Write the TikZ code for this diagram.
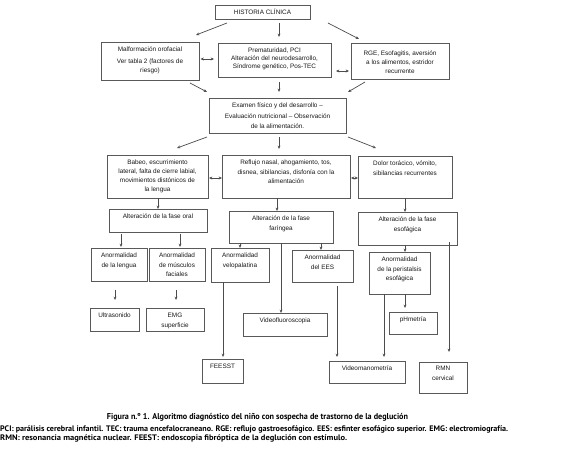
\documentclass[tikz,border=0pt]{standalone}
\usepackage{fontspec}
\usepackage{graphicx}
\setmainfont{Liberation Sans}
\newfontfamily\capfont{PT Sans}
\usetikzlibrary{arrows.meta,calc}
\newcommand{\flowbox}[7][]{%
  \node[box, minimum width={(#5-#3)*1pt}, minimum height={(#6-#4)*1pt}] (#2) at (#3,#4) {};
  \node[txt, anchor=north, #1] (#2T) at ([yshift=-5pt]#2.north) {#7};}
\begin{document}
\begin{tikzpicture}[x=1pt,y=-1pt,
  box/.style={draw=black!65, line width=0.7pt, inner sep=0pt, outer sep=0pt, anchor=north west},
  txt/.style={font=\fontsize{6.4}{9.5}\selectfont, align=center, inner sep=0pt, text=black!90},
  arr/.style={draw=black!70, line width=0.7pt, -{Stealth[length=3.4pt,width=2.8pt]}},
  darr/.style={draw=black!70, line width=0.7pt, {Stealth[length=3.4pt,width=3pt]}-{Stealth[length=3.4pt,width=3pt]}}]
\useasboundingbox[fill=white] (0,0) rectangle (567,452);

% boxes
\node[box, minimum width=95pt, minimum height=14pt] (hc) at (215,5) {};
\node[txt] (hcT) at (hc.center) {HISTORIA CLÍNICA};
\flowbox{malf}{101}{42}{199}{80}{Malformación orofacial\\[2pt]Ver tabla 2 (factores de\\riesgo)}
\flowbox[font=\fontsize{6.4}{7.6}\selectfont]{prem}{218}{43}{331}{77}{Prematuridad, PCI\\Alteración del neurodesarrollo,\\Síndrome genético, Pos-TEC}
\flowbox[yshift=-2.5pt, font=\fontsize{6.4}{9}\selectfont]{rge}{351}{43}{449}{79}{RGE, Esofagitis, aversión\\a los alimentos, estridor\\recurrente}
\flowbox[font=\fontsize{6.4}{10.3}\selectfont]{exam}{209}{98}{346}{133}{Examen físico y del desarrollo --\\Evaluación nutricional -- Observación\\de la alimentación.}
\flowbox[font=\fontsize{6.4}{8.8}\selectfont]{babeo}{107}{155}{208}{198}{Babeo, escurrimiento\\lateral, falta de cierre labial,\\movimientos distónicos de\\la lengua}
\flowbox{refl}{222}{155}{350}{198}{Reflujo nasal, ahogamiento, tos,\\disnea, sibilancias, disfonía con la\\alimentación}
\flowbox{dolor}{358}{156}{452}{198}{Dolor torácico, vómito,\\sibilancias recurrentes}
\flowbox{oral}{109}{209}{207}{232}{Alteración de la fase oral}
\flowbox{far}{229}{211}{333}{243}{Alteración de la fase\\faríngea}
\flowbox{esof}{358}{212}{457}{245}{Alteración de la fase\\esofágica}
\flowbox{leng}{91}{248}{147}{281}{Anormalidad\\de la lengua}
\flowbox{musc}{149}{248}{205}{281}{Anormalidad\\de músculos\\faciales}
\flowbox{velo}{211}{248}{269}{282}{Anormalidad\\velopalatina}
\flowbox{ees}{292}{250}{353}{282}{Anormalidad\\del EES}
\flowbox{peri}{369}{252}{430}{294}{Anormalidad\\de la peristalsis\\esofágica}
\flowbox{ultra}{90}{308}{139}{331}{Ultrasonido}
\flowbox{emg}{146}{308}{204}{331}{EMG\\superficie}
\flowbox{vfl}{243}{313}{327}{336}{Videofluoroscopia}
\flowbox{phm}{389}{312}{437}{334}{pHmetría}
\flowbox{fees}{202}{359}{243}{383}{FEESST}
\flowbox{vman}{329}{361}{405}{383}{Videomanometría}
\flowbox[yshift=1pt]{rmn}{419}{362}{467}{393}{RMN\\cervical}

% connectors
\draw[arr] ([xshift=-35.5pt,yshift=-4pt]hc.south) -- ([xshift=46pt,yshift=7pt]malf.north);
\draw[arr] ([xshift=16.5pt,yshift=-4pt]hc.south) -- ([xshift=4.5pt,yshift=6pt]prem.north);
\draw[arr] ([xshift=65.5pt,yshift=-4pt]hc.south) -- ([xshift=-41pt,yshift=4pt]rge.north);
\draw[darr] ([xshift=1.5pt,yshift=2pt]malf.east) -- ([xshift=-4pt,yshift=1pt]prem.west);
\draw[darr] ([xshift=5pt,yshift=-11pt]prem.east) -- ([xshift=-2pt,yshift=-10pt]rge.west);
\draw[arr] ([xshift=40pt,yshift=-3pt]malf.south) -- ([xshift=-70.5pt,yshift=6pt]exam.north);
\draw[arr] ([xshift=4.5pt,yshift=-5pt]prem.south) -- ([xshift=1.5pt,yshift=6pt]exam.north);
\draw[arr] ([xshift=-35pt,yshift=-3pt]rge.south) -- ([xshift=70.5pt,yshift=6pt]exam.north);
\draw[arr] ([xshift=-70.5pt,yshift=-4pt]exam.south) -- ([xshift=19.5pt,yshift=7pt]babeo.north);
\draw[arr] ([xshift=1.5pt,yshift=-4pt]exam.south) -- ([xshift=-7pt,yshift=6pt]refl.north);
\draw[arr] ([xshift=70.5pt,yshift=-4pt]exam.south) -- ([xshift=-29pt,yshift=8pt]dolor.north);
\draw[darr] ([xshift=1pt,yshift=-1.5pt]babeo.east) -- ([yshift=-1.5pt]refl.west);
\draw[darr] ([xshift=1pt,yshift=-1.5pt]refl.east) -- ([yshift=-1pt]dolor.west);
\draw[arr] ([xshift=0.5pt]babeo.south) -- (oral.north);
\draw[arr] ([xshift=-9pt]refl.south) -- ([xshift=-4pt]far.north);
\draw[arr] (dolor.south) -- ([xshift=-2.5pt]esof.north);
\draw[arr] ([xshift=-37pt,yshift=-2pt]oral.south) -- ([xshift=2pt,yshift=1pt]leng.north);
\draw[arr] ([xshift=22pt,yshift=-2pt]oral.south) -- ([xshift=3pt,yshift=1pt]musc.north);
\draw[arr] ([xshift=-41pt]far.south) -- (velo.north);
\draw[arr] ([xshift=40pt]far.south) -- ([xshift=-1.5pt]ees.north);
\draw[arr] (far.south) -- ([xshift=-4pt]vfl.north);
\draw[arr] ([xshift=-2.5pt]esof.south) -- ([xshift=5.5pt]peri.north);
\draw[arr] ([xshift=41.5pt,yshift=3pt]esof.south) -- ([xshift=6pt,yshift=10pt]rmn.north);
\draw[arr] ([xshift=-4pt,yshift=-9pt]leng.south) -- ([xshift=0.5pt,yshift=8pt]ultra.north);
\draw[arr] ([xshift=-1pt,yshift=-9pt]musc.south) -- ([xshift=1pt,yshift=8pt]emg.north);
\draw[arr] ([xshift=-17pt]velo.south) -- ([xshift=0.5pt,yshift=2pt]fees.north);
\draw[arr] ([xshift=14.5pt,yshift=-4pt]ees.south) -- ([xshift=-30pt,yshift=4pt]vman.north);
\draw[arr] ([xshift=-15.5pt]peri.south) -- ([xshift=17pt,yshift=4pt]vman.north);
\draw[arr] ([xshift=5.5pt]peri.south) -- ([xshift=-8pt,yshift=4pt]phm.north);

% caption
\node[inner sep=0pt] (title) at (257.5,417) {\resizebox{301pt}{\height}{\capfont\bfseries\fontsize{8.5}{10}\selectfont Figura n.º 1. Algoritmo diagnóstico del niño con sospecha de trastorno de la deglución}};
\node[inner sep=0pt, anchor=west] (cap1) at (0,429) {\resizebox{508pt}{\height}{\capfont\bfseries\fontsize{8}{10}\selectfont PCI: parálisis cerebral infantil. TEC: trauma encefalocraneano. RGE: reflujo gastroesofágico. EES: esfinter esofágico superior. EMG: electromiografía.}};
\node[inner sep=0pt, anchor=west] (cap2) at (0,438) {\resizebox{347pt}{\height}{\capfont\bfseries\fontsize{8}{10}\selectfont RMN: resonancia magnética nuclear. FEEST: endoscopia fibróptica de la deglución con estímulo.}};
\end{tikzpicture}
\end{document}
